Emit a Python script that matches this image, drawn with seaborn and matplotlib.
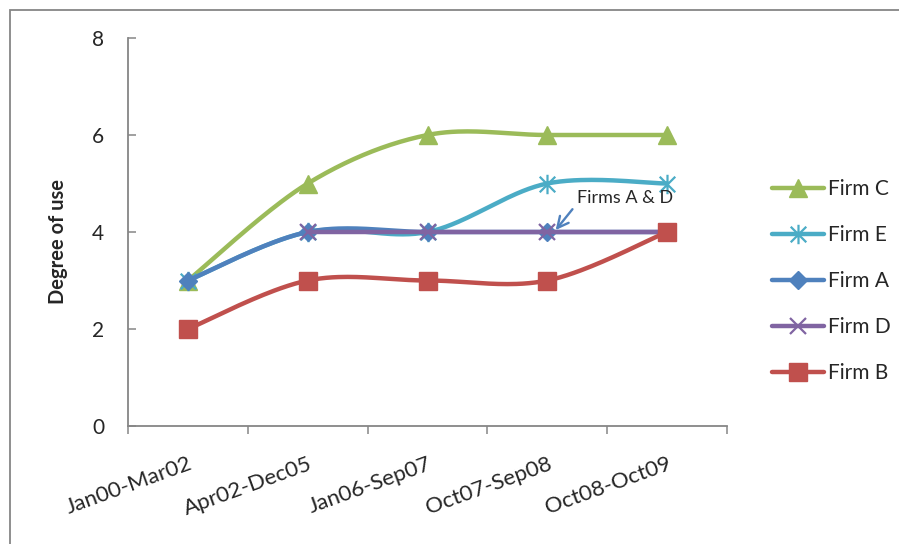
import numpy as np
import pandas as pd
import matplotlib
matplotlib.use("Agg")
import matplotlib.pyplot as plt
import matplotlib.transforms as mtransforms
import seaborn as sns
from matplotlib.path import Path
from matplotlib.lines import Line2D
from matplotlib.patches import Rectangle

# ---- data ----
categories = ["Jan00-Mar02", "Apr02-Dec05", "Jan06-Sep07", "Oct07-Sep08", "Oct08-Oct09"]
firm_c = [3, 5, 6, 6, 6]
firm_e = [3, 4, 4, 5, 5]
firm_a = [3, 4, 4, 4, 4]
firm_d = [np.nan, 4, 4, 4, 4]
firm_b = [2, 3, 3, 3, 4]
series_names = ["Firm C", "Firm E", "Firm A", "Firm D", "Firm B"]
series_values = [firm_c, firm_e, firm_a, firm_d, firm_b]
y_ticks = [0, 2, 4, 6, 8]
y_label = "Degree of use"
annotation_text = "Firms A & D"

# ---- styles ----
sns.set_style("white")
plt.rcParams["font.family"] = ["Lato", "DejaVu Sans"]

asterisk = Path(
    [(0, -1), (0, 1), (-0.8, -0.8), (0.8, 0.8), (-0.8, 0.8), (0.8, -0.8)],
    [Path.MOVETO, Path.LINETO, Path.MOVETO, Path.LINETO, Path.MOVETO, Path.LINETO],
)
styles = {
    "Firm C": dict(color="#9BBB59", marker="^", ms=13, mew=1),
    "Firm E": dict(color="#4BACC6", marker=asterisk, ms=14, mew=1.6),
    "Firm A": dict(color="#4F81BD", marker="D", ms=9.5, mew=1),
    "Firm D": dict(color="#8064A2", marker="x", ms=12, mew=1.6),
    "Firm B": dict(color="#C0504D", marker="s", ms=12.5, mew=1),
}


def smooth(xs, ys, n=40):
    """Excel-like Catmull-Rom smoothing through the data points."""
    xs = np.asarray(xs, float)
    ys = np.asarray(ys, float)
    px, py = [], []
    m = len(xs)
    for i in range(m - 1):
        p0 = (xs[max(i - 1, 0)], ys[max(i - 1, 0)])
        p1 = (xs[i], ys[i])
        p2 = (xs[i + 1], ys[i + 1])
        p3 = (xs[min(i + 2, m - 1)], ys[min(i + 2, m - 1)])
        c1 = (p1[0] + (p2[0] - p0[0]) / 6, p1[1] + (p2[1] - p0[1]) / 6)
        c2 = (p2[0] - (p3[0] - p1[0]) / 6, p2[1] - (p3[1] - p1[1]) / 6)
        t = np.linspace(0, 1, n)
        for k in range(2):
            a, b, c, d = p1[k], c1[k], c2[k], p2[k]
            v = (1 - t) ** 3 * a + 3 * (1 - t) ** 2 * t * b + 3 * (1 - t) * t ** 2 * c + t ** 3 * d
            (px if k == 0 else py).extend(v if i == 0 else v[1:])
    return np.array(px), np.array(py)


fig = plt.figure(figsize=(8.99, 5.44), dpi=100)
ax = fig.add_axes([128 / 899, 1 - 426 / 544, (727 - 128) / 899, (426 - 38) / 544])

# outer chart border
fig.patches.append(Rectangle((10 / 899, -0.2), 2, 1.2 - 10 / 544,
                             transform=fig.transFigure, fill=False,
                             edgecolor="#868686", linewidth=1.3, zorder=0))

x_idx = np.arange(len(categories))
handles = []
for z, (name, vals) in enumerate(zip(series_names, series_values)):
    st = styles[name]
    vals = np.asarray(vals, float)
    ok = ~np.isnan(vals)
    sx, sy = smooth(x_idx[ok], vals[ok])
    df = pd.DataFrame({"x": sx, "y": sy})
    sns.lineplot(data=df, x="x", y="y", ax=ax, color=st["color"], linewidth=3.2,
                 sort=False, estimator=None, zorder=2 + 2 * z)
    ax.plot(x_idx[ok], vals[ok], linestyle="none", marker=st["marker"],
            markersize=st["ms"], color=st["color"], markeredgecolor=st["color"],
            markeredgewidth=st["mew"], zorder=3 + 2 * z)
    handles.append(Line2D([], [], color=st["color"], linewidth=3.2, marker=st["marker"],
                          markersize=st["ms"], markeredgecolor=st["color"],
                          markeredgewidth=st["mew"]))

ax.set_xlim(-0.5, len(categories) - 0.5)
ax.set_ylim(y_ticks[0], y_ticks[-1])
ax.set_yticks(y_ticks)
ax.set_yticklabels([str(v) for v in y_ticks])
ax.set_xticks(np.arange(-0.5, len(categories), 1.0))
ax.set_xticklabels([])
ax.set_xticks(x_idx, minor=True)
ax.set_xticklabels(categories, minor=True, rotation=20, ha="right", va="top",
                   rotation_mode="anchor", fontsize=16)
shift = mtransforms.ScaledTranslation(-4 / 100, 0, fig.dpi_scale_trans)
for lab in ax.get_xticklabels(minor=True):
    lab.set_transform(lab.get_transform() + shift)
ax.tick_params(axis="x", which="major", direction="out", length=6, width=1.1,
               color="#868686", bottom=True)
ax.tick_params(axis="x", which="minor", length=0, pad=20)
ax.tick_params(axis="y", direction="in", length=6, width=1.1, color="#868686",
               labelsize=15, pad=17, left=True)
ax.set_xlabel("")
ax.set_ylabel(y_label, fontsize=14.5, fontweight="bold", va="center",
              rotation_mode="anchor")
ax.yaxis.set_label_coords((58 - 128) / 599, (426 - 241) / 388)

for side in ["top", "right"]:
    ax.spines[side].set_visible(False)
for side in ["left", "bottom"]:
    ax.spines[side].set_color("#868686")
    ax.spines[side].set_linewidth(1.3)
ax.grid(False)

ax.text(3.25, 4.70, annotation_text, fontsize=13, ha="left", va="center", zorder=20)
ax.annotate("", xy=(3.07, 4.04), xytext=(3.21, 4.47),
            arrowprops=dict(arrowstyle="->", color="#4F81BD", lw=1.7,
                            shrinkA=0, shrinkB=0, mutation_scale=20),
            zorder=20)

fig.legend(handles, series_names, loc="center left",
           bbox_to_anchor=(764 / 899, 1 - 281 / 544), frameon=False,
           fontsize=15, labelspacing=1.25, handlelength=2.5, handletextpad=0.15,
           borderaxespad=0)

fig.savefig("out.png", dpi=100)
